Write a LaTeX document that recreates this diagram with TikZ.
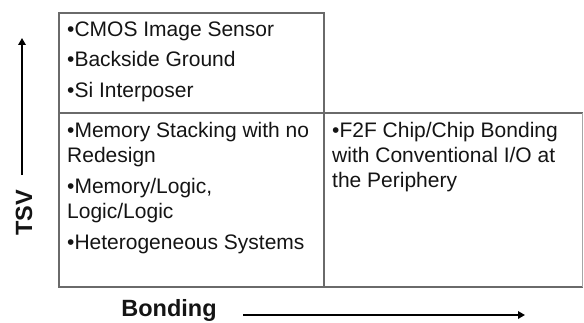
\documentclass[tikz,border=0pt]{standalone}
\usepackage{fontspec}
\setmainfont{Liberation Sans}
\usetikzlibrary{arrows.meta}
\definecolor{gridgray}{HTML}{6A6A6A}
\definecolor{inkblack}{HTML}{141414}
\begin{document}
\begin{tikzpicture}[x=1pt,y=1pt,
  gridline/.style={draw=gridgray,line width=1.1pt},
  item/.style={anchor=base west,inner sep=0pt,text=inkblack,font=\fontsize{21}{25}\selectfont},
  axislabel/.style={inner sep=0pt,text=inkblack,font=\fontsize{23.5}{28}\selectfont\bfseries},
  axisarrow/.style={draw=black,line width=1.8pt,-{Triangle[length=7pt,width=7.5pt]}}]
\useasboundingbox (0,0) rectangle (584,322);
% grid
\draw[gridline] (59,309) rectangle (324,209);
\draw[gridline] (59,209) rectangle (324,35);
\draw[gridline] (324,209) -- (582.5,209);
\draw[gridline] (324,35) -- (582.5,35);
\draw[draw=gridgray!60,line width=1.1pt] (582.5,209) -- (582.5,35);
% top-left cell
\node[item] (t1) at (67,285) {•CMOS Image Sensor};
\node[item] (t2) at (67,255) {•Backside Ground};
\node[item] (t3) at (67,225) {•Si Interposer};
% bottom-left cell
\node[item] (b1) at (67,185) {•Memory Stacking with no};
\node[item] (b1b) at (67,160) {Redesign};
\node[item] (b2) at (67,129) {•Memory/Logic,};
\node[item] (b2b) at (67,104) {Logic/Logic};
\node[item] (b3) at (67,73) {•Heterogeneous Systems};
% bottom-right cell
\node[item] (r1) at (332,185) {•F2F Chip/Chip Bonding};
\node[item] (r1b) at (332,160) {with Conventional I/O at};
\node[item] (r1c) at (332,135) {the Periphery};
% axes
\node[axislabel,rotate=90] (tsv) at (24,109) {TSV};
\coordinate (tsvS) at (22,147);
\coordinate (tsvE) at (22,284);
\draw[axisarrow] (tsvS) -- (tsvE);
\node[axislabel,anchor=base] (bond) at (169,5.5) {Bonding};
\coordinate (bondS) at (243,7);
\coordinate (bondE) at (525,7);
\draw[axisarrow] (bondS) -- (bondE);
\end{tikzpicture}
\end{document}
